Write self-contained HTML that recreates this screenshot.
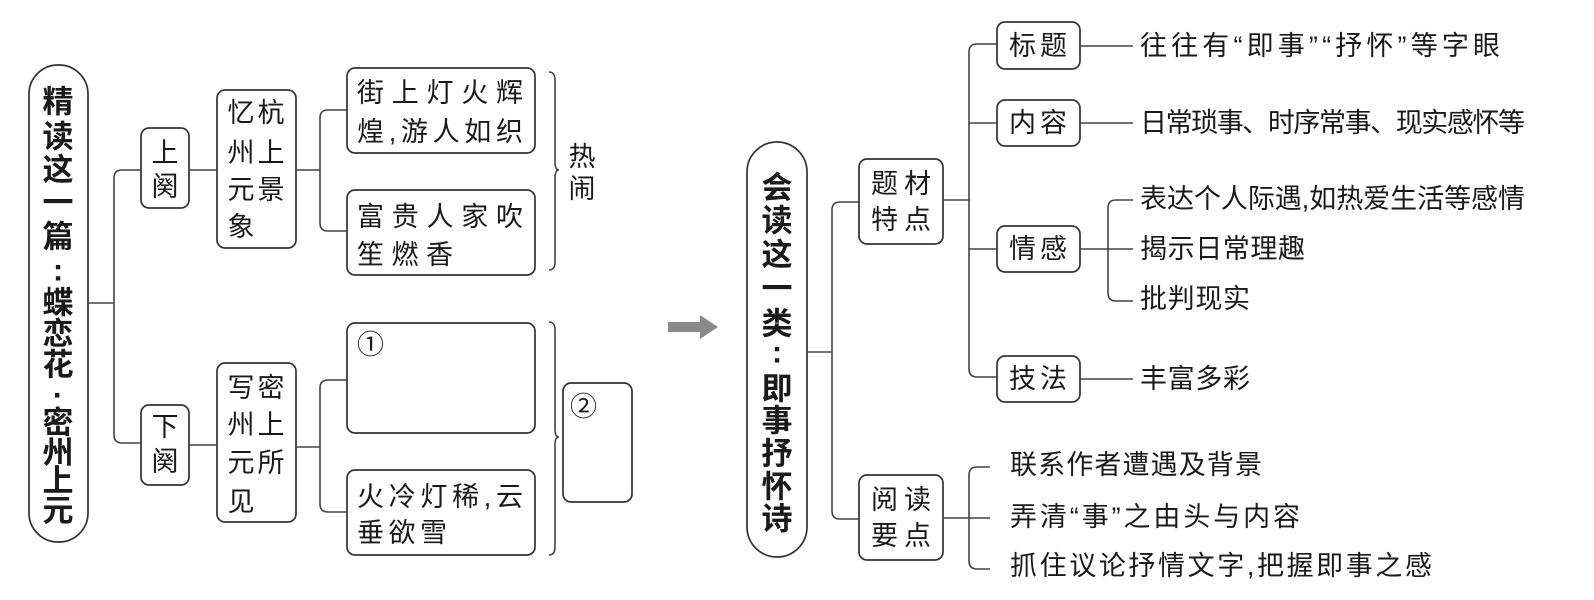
<!DOCTYPE html>
<html><head><meta charset="utf-8"><style>
html,body{margin:0;padding:0;background:#fff}
svg{display:block}
text{font-family:"Liberation Sans","Noto Sans CJK SC",sans-serif;fill:#1a1a1a;dominant-baseline:central}
.b{fill:none;stroke:#333;stroke-width:1.7}
.l{fill:none;stroke:#444;stroke-width:1.6}
.t{font-size:27px}
.bold{font-weight:bold;font-size:31px}
</style></head><body>
<svg width="1594" height="600" viewBox="0 0 1594 600" xmlns="http://www.w3.org/2000/svg">
<!-- LEFT -->
<rect class="b" x="29" y="65" width="59" height="477" rx="29"/>
<g class="bold" text-anchor="middle">
<text x="58" y="102">精</text><text x="58" y="137">读</text><text x="58" y="170">这</text><text x="58" y="203">一</text>
<text x="58" y="237">篇</text><text x="58" y="270">:</text><text x="58" y="303">蝶</text><text x="58" y="334">恋</text>
<text x="58" y="365">花</text><text x="58" y="395">·</text><text x="58" y="423">密</text><text x="58" y="453">州</text><text x="58" y="481">上</text><text x="58" y="511">元</text>
</g>
<path class="l" d="M88,303 H114 M141,170 H122 q-8,0 -8,8 V435 q0,8 8,8 H141"/>
<rect class="b" x="141" y="128" width="48" height="80" rx="8"/>
<rect class="b" x="141" y="405" width="48" height="80" rx="8"/>
<g class="t" text-anchor="middle">
<text x="165" y="153">上</text><text x="165" y="187">阕</text>
<text x="165" y="427">下</text><text x="165" y="462">阕</text>
</g>
<path class="l" d="M189,170 H217 M189,445 H217"/>
<rect class="b" x="217" y="90" width="79" height="158" rx="8"/>
<rect class="b" x="217" y="363" width="79" height="159" rx="8"/>
<g class="t" text-anchor="middle">
<text x="241" y="113">忆</text><text x="271" y="113">杭</text>
<text x="241" y="153">州</text><text x="271" y="153">上</text>
<text x="241" y="190">元</text><text x="271" y="190">景</text>
<text x="241" y="227">象</text>
<text x="241" y="388">写</text><text x="271" y="388">密</text>
<text x="241" y="425">州</text><text x="271" y="425">上</text>
<text x="241" y="463">元</text><text x="271" y="463">所</text>
<text x="241" y="502">见</text>
</g>
<path class="l" d="M296,170 H320 M347,110 H328 q-8,0 -8,8 V223 q0,8 8,8 H347"/>
<path class="l" d="M296,447 H320 M347,380 H328 q-8,0 -8,8 V504 q0,8 8,8 H347"/>
<rect class="b" x="347" y="68" width="188" height="85" rx="8"/>
<rect class="b" x="347" y="190" width="188" height="85" rx="8"/>
<rect class="b" x="347" y="323" width="188" height="110" rx="8"/>
<rect class="b" x="347" y="470" width="188" height="85" rx="8"/>
<g class="t">
<text x="357" y="93" textLength="166" lengthAdjust="spacing">街上灯火辉</text>
<text x="357" y="132" textLength="166" lengthAdjust="spacing">煌,游人如织</text>
<text x="357" y="217" textLength="166" lengthAdjust="spacing">富贵人家吹</text>
<text x="357" y="255" textLength="96" lengthAdjust="spacing">笙燃香</text>
<text x="357" y="345">①</text>
<text x="357" y="497" textLength="166" lengthAdjust="spacing">火冷灯稀,云</text>
<text x="357" y="533" textLength="90" lengthAdjust="spacing">垂欲雪</text>
</g>
<path class="l" d="M549,72 q6,0 6,8 v82 q0,8 4,8 q-4,0 -4,8 v84 q0,8 -6,8"/>
<path class="l" d="M549,322 q6,0 6,8 v99 q0,8 4,8 q-4,0 -4,8 v102 q0,8 -6,8"/>
<g class="t" text-anchor="middle"><text x="582" y="157">热</text><text x="582" y="189">闹</text></g>
<rect class="b" x="563" y="383" width="69" height="119" rx="8"/>
<text class="t" x="570" y="407">②</text>
<!-- ARROW -->
<path d="M668,322 H700 V315 L718,327 L700,339 V332 H668 Z" fill="#8a8a8a"/>
<!-- RIGHT -->
<rect class="b" x="747" y="142" width="60" height="415" rx="30"/>
<g class="bold" text-anchor="middle">
<text x="777" y="188">会</text><text x="777" y="221">读</text><text x="777" y="255">这</text><text x="777" y="289">一</text>
<text x="777" y="324">类</text><text x="777" y="352">:</text><text x="777" y="389">即</text><text x="777" y="421">事</text>
<text x="777" y="454">抒</text><text x="777" y="487">怀</text><text x="777" y="519">诗</text>
</g>
<path class="l" d="M807,352 H832 M859,202 H840 q-8,0 -8,8 V511 q0,8 8,8 H859"/>
<rect class="b" x="859" y="159" width="84" height="85" rx="8"/>
<rect class="b" x="859" y="475" width="84" height="85" rx="8"/>
<g class="t" text-anchor="middle">
<text x="901" y="184" textLength="60" lengthAdjust="spacing">题材</text>
<text x="901" y="220" textLength="60" lengthAdjust="spacing">特点</text>
<text x="901" y="500" textLength="60" lengthAdjust="spacing">阅读</text>
<text x="901" y="536" textLength="60" lengthAdjust="spacing">要点</text>
</g>
<path class="l" d="M943,200 H969 M997,44 H977 q-8,0 -8,8 V369 q0,8 8,8 H997 M969,123 H997 M969,249 H997"/>
<rect class="b" x="997" y="22" width="83" height="47" rx="8"/>
<rect class="b" x="997" y="100" width="83" height="46" rx="8"/>
<rect class="b" x="997" y="226" width="83" height="46" rx="8"/>
<rect class="b" x="997" y="356" width="83" height="46" rx="8"/>
<g class="t" text-anchor="middle">
<text x="1038" y="46" textLength="58" lengthAdjust="spacing">标题</text>
<text x="1038" y="123" textLength="58" lengthAdjust="spacing">内容</text>
<text x="1038" y="249" textLength="58" lengthAdjust="spacing">情感</text>
<text x="1038" y="379" textLength="58" lengthAdjust="spacing">技法</text>
</g>
<path class="l" d="M1080,46 H1133 M1080,123 H1133 M1080,379 H1133 M1080,249 H1133 M1133,200 H1116 q-8,0 -8,8 V293 q0,8 8,8 H1133"/>
<g class="t">
<text x="1140" y="46" textLength="360" lengthAdjust="spacing">往往有“即事”“抒怀”等字眼</text>
<text x="1140" y="123" textLength="385" lengthAdjust="spacing">日常琐事、时序常事、现实感怀等</text>
<text x="1140" y="199" textLength="385" lengthAdjust="spacing">表达个人际遇,如热爱生活等感情</text>
<text x="1140" y="249" textLength="165" lengthAdjust="spacing">揭示日常理趣</text>
<text x="1140" y="299" textLength="110" lengthAdjust="spacing">批判现实</text>
<text x="1140" y="379" textLength="110" lengthAdjust="spacing">丰富多彩</text>
</g>
<path class="l" d="M943,518 H990 M990,467 H977 q-8,0 -8,8 V561 q0,8 8,8 H990"/>
<g class="t">
<text x="1010" y="465" textLength="252" lengthAdjust="spacing">联系作者遭遇及背景</text>
<text x="1010" y="517" textLength="290" lengthAdjust="spacing">弄清“事”之由头与内容</text>
<text x="1010" y="566" textLength="422" lengthAdjust="spacing">抓住议论抒情文字,把握即事之感</text>
</g>
</svg>
</body></html>
